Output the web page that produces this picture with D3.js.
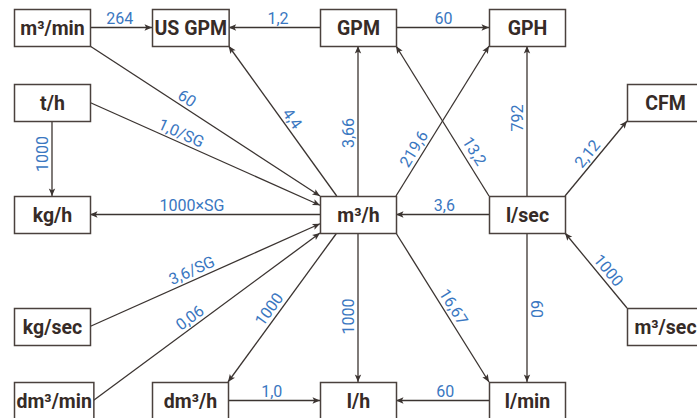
<!DOCTYPE html>
<html>
<head>
<meta charset="utf-8">
<script src="https://cdn.jsdelivr.net/npm/d3@7"></script>
<style>
  html, body { margin: 0; padding: 0; background: #fff; }
  svg { display: block; }
</style>
</head>
<body>
<svg id="chart" width="697" height="418"></svg>
<script>
// ---------------- data ----------------
const nodeNames = ["m³/min", "US GPM", "GPM", "GPH", "t/h", "CFM", "kg/h", "m³/h", "l/sec",
                   "kg/sec", "m³/sec", "dm³/min", "dm³/h", "l/h", "l/min"];
const nodeCols  = [0, 1, 2, 3, 0, 4, 0, 2, 3, 0, 4, 0, 1, 2, 3];
const nodeRows  = [0, 0, 0, 0, 1, 1, 2, 2, 2, 3, 3, 4, 4, 4, 4];

const edgeFrom   = ["m³/min", "GPM", "GPM", "m³/min", "t/h", "t/h", "m³/h", "m³/h", "m³/h", "m³/h",
                    "l/sec", "l/sec", "l/sec", "l/sec", "m³/sec", "kg/sec", "dm³/min", "m³/h", "m³/h",
                    "m³/h", "l/sec", "dm³/h", "l/min"];
const edgeTo     = ["US GPM", "US GPM", "GPH", "m³/h", "m³/h", "kg/h", "kg/h", "US GPM", "GPM", "GPH",
                    "GPM", "GPH", "CFM", "m³/h", "l/sec", "m³/h", "m³/h", "dm³/h", "l/h",
                    "l/min", "l/min", "l/h", "l/h"];
const edgeLabels = ["264", "1,2", "60", "60", "1,0/SG", "1000", "1000×SG", "4,4", "3,66", "219,6",
                    "13,2", "792", "2,12", "3,6", "1000", "3,6/SG", "0,06", "1000", "1000",
                    "16,67", "60", "1,0", "60"];

// ---------------- layout (geometry only) ----------------
// anchor offsets on the box, in half-width / half-height units
const srcAnchor = [[1,0],[-1,0],[1,0],[1,1],[1,0],[0,1],[-1,0],[-0.56,-1],[0,-1],[1,-1],
                   [-1,-1],[0,-1],[1,-1],[-1,0],[-1,-1],[1,0],[1,0],[-0.56,1],[0,1],
                   [1,1],[0,1],[1,0],[-1,0]];
const tgtAnchor = [[-1,0],[1,0],[-1,0],[-1,-1],[-1,-0.5],[0,-1],[1,0],[1,1],[0,1],[-1,1],
                   [1,1],[0,1],[-1,1],[1,0],[1,1],[-1,0.5],[-1,1],[1,-1],[0,-1],
                   [-1,-1],[0,-1],[-1,0],[1,0]];
const labelT    = [0.48, 0.46, 0.51, 0.40, 0.38, 0.44, 0.557, 0.48, 0.42, 0.28,
                   0.26, 0.52, 0.48, 0.48, 0.42, 0.46, 0.45, 0.55, 0.56,
                   0.53, 0.51, 0.475, 0.47];
const labelOff  = [9.5, 9.5, 9.5, 9.5, 9.5, 9.5, 9.5, 9.5, 9.5, 10,
                   11.5, 9.5, 10, 9.5, 10, 10, 9.5, 10, 9.5,
                   10, 9.5, 9.5, 9.5];
const labelFlip = [0,0,0,0,0,1,0,0,1,0, 0,1,0,0,0,0,0,0,1, 0,0,0,0];

const W = 697, H = 418;
const BW = 76, BH = 37;
const LINE = "#3b3431", BOX = "#4a413d", TXT = "#362b27", BLUE = "#3a77c1";
const NODE_FONT = 19.5;

const svg = d3.select("#chart");
const colLeft = d3.scaleOrdinal().domain(d3.range(5)).range([14, 152, 320, 489, 627]);
const rowTop  = d3.scaleOrdinal().domain(d3.range(5)).range([9, 84, 196, 308, 382]);

svg.append("rect").attr("width", W).attr("height", H).attr("fill", "#fff");

const defs = svg.append("defs");
defs.append("marker")
  .attr("id", "arr")
  .attr("viewBox", "-9 -5 10 10")
  .attr("refX", 0).attr("refY", 0)
  .attr("markerWidth", 10).attr("markerHeight", 10)
  .attr("markerUnits", "userSpaceOnUse")
  .attr("orient", "auto")
  .append("path")
  .attr("d", "M0,0 L-7.5,-3.2 L-5.8,0 L-7.5,3.2 Z")
  .attr("fill", LINE);

// measure text widths for boxes
const gText = svg.append("g");
const boxes = {};
nodeNames.forEach((n, i) => {
  const t = gText.append("text").text(n)
    .attr("font-family", "Roboto, 'Noto Sans', sans-serif")
    .attr("font-weight", 700).attr("font-size", NODE_FONT);
  const tw = t.node().getComputedTextLength();
  t.remove();
  const w = Math.max(BW, Math.min(tw + 4, 84));
  const x0 = colLeft(nodeCols[i]), y0 = rowTop(nodeRows[i]);
  boxes[n] = { x0, y0, w, h: BH, cx: x0 + w / 2, cy: y0 + BH / 2 };
});
gText.remove();

function anchor(b, a) {
  return [b.cx + a[0] * b.w / 2, b.cy + a[1] * b.h / 2];
}

const edges = edgeFrom.map((f, i) => {
  const s = anchor(boxes[f], srcAnchor[i]);
  const t = anchor(boxes[edgeTo[i]], tgtAnchor[i]);
  return { s, t, label: edgeLabels[i], lt: labelT[i], off: labelOff[i], flip: labelFlip[i] };
});

// lines
svg.append("g").selectAll("line").data(edges).join("line")
  .attr("x1", d => d.s[0]).attr("y1", d => d.s[1])
  .attr("x2", d => d.t[0]).attr("y2", d => d.t[1])
  .attr("stroke", LINE).attr("stroke-width", 1.3)
  .attr("marker-end", "url(#arr)");

// boxes
const nodeG = svg.append("g").selectAll("g").data(nodeNames).join("g");
nodeG.append("rect")
  .attr("x", d => boxes[d].x0 + 0.5).attr("y", d => boxes[d].y0 + 0.5)
  .attr("width", d => boxes[d].w).attr("height", d => boxes[d].h)
  .attr("fill", "#fff").attr("stroke", BOX).attr("stroke-width", 1.5);
nodeG.append("text")
  .attr("x", d => boxes[d].cx + 0.5).attr("y", d => boxes[d].cy + 7.5)
  .attr("text-anchor", "middle")
  .attr("font-family", "Roboto, 'Noto Sans', sans-serif")
  .attr("font-weight", 700).attr("font-size", NODE_FONT)
  .attr("fill", TXT)
  .text(d => d);

// labels
svg.append("g").selectAll("text").data(edges).join("text")
  .attr("transform", d => {
    const dx = d.t[0] - d.s[0], dy = d.t[1] - d.s[1];
    let a = Math.atan2(dy, dx) * 180 / Math.PI;
    if (a > 90) a -= 180;
    if (a <= -90) a += 180;
    if (d.flip) a -= 180;
    const r = a * Math.PI / 180;
    const ux = Math.sin(r), uy = -Math.cos(r);
    const px = d.s[0] + dx * d.lt + ux * d.off;
    const py = d.s[1] + dy * d.lt + uy * d.off;
    return `translate(${px},${py}) rotate(${a})`;
  })
  .attr("text-anchor", "middle")
  .attr("dy", "0.36em")
  .attr("font-family", "Roboto, 'Noto Sans', sans-serif")
  .attr("font-size", 16)
  .attr("fill", BLUE)
  .text(d => d.label);
</script>
</body>
</html>
